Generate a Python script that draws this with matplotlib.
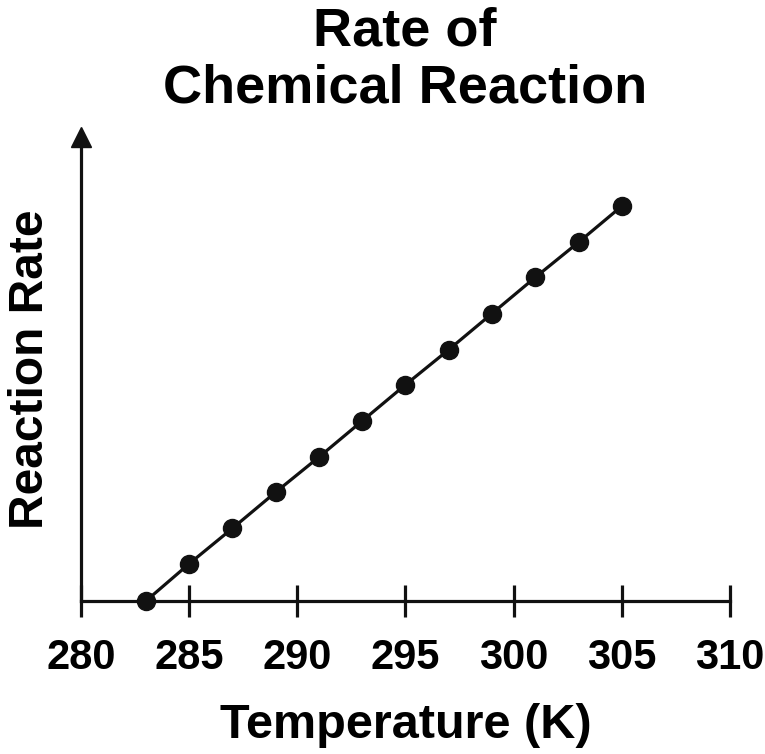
import matplotlib
matplotlib.use("Agg")
import matplotlib.pyplot as plt

temperature = [283, 285, 287, 289, 291, 293, 295, 297, 299, 301, 303, 305]
reaction_rate = [0, 1.04, 2.03, 3.04, 4.02, 5.03, 6.04, 7.02, 8.03, 9.04, 10.02, 11.03]
x_ticks = [280, 285, 290, 295, 300, 305, 310]

plt.rcParams['font.family'] = ['Liberation Sans', 'DejaVu Sans']
plt.rcParams['font.weight'] = 'bold'

fig = plt.figure(figsize=(7.65, 7.54), dpi=100)
ax = fig.add_axes([81/765, (754-601)/754, (730-81)/765, (601-137)/754])

ax.plot(temperature, reaction_rate, color='#111111', lw=2.3, marker='o',
        markersize=13, clip_on=False, zorder=5)

ax.set_xlim(280, 310)
ax.set_ylim(0, 12.96)
ax.set_xticks(x_ticks)
ax.set_xticklabels([str(t) for t in x_ticks], fontsize=30, fontweight='bold')
ax.set_yticks([])
for s in ['top', 'right']:
    ax.spines[s].set_visible(False)
for s in ['left', 'bottom']:
    ax.spines[s].set_linewidth(2.3)
    ax.spines[s].set_color('#111111')
ax.tick_params(axis='x', direction='inout', length=23, width=2.3, color='#111111', pad=15)

ax.plot([0], [1], marker='^', markersize=15, color='#111111', transform=ax.transAxes,
        clip_on=False)

ax.set_xlabel('Temperature (K)', fontsize=35, fontweight='bold', labelpad=18)
ax.set_ylabel('Reaction Rate', fontsize=34.5, fontweight='bold', labelpad=20)
fig.text(405/765, 1 - 60/754, 'Rate of\nChemical Reaction', ha='center', va='center',
         fontsize=39, fontweight='bold', linespacing=1.2)

fig.savefig('out.png', dpi=100)
